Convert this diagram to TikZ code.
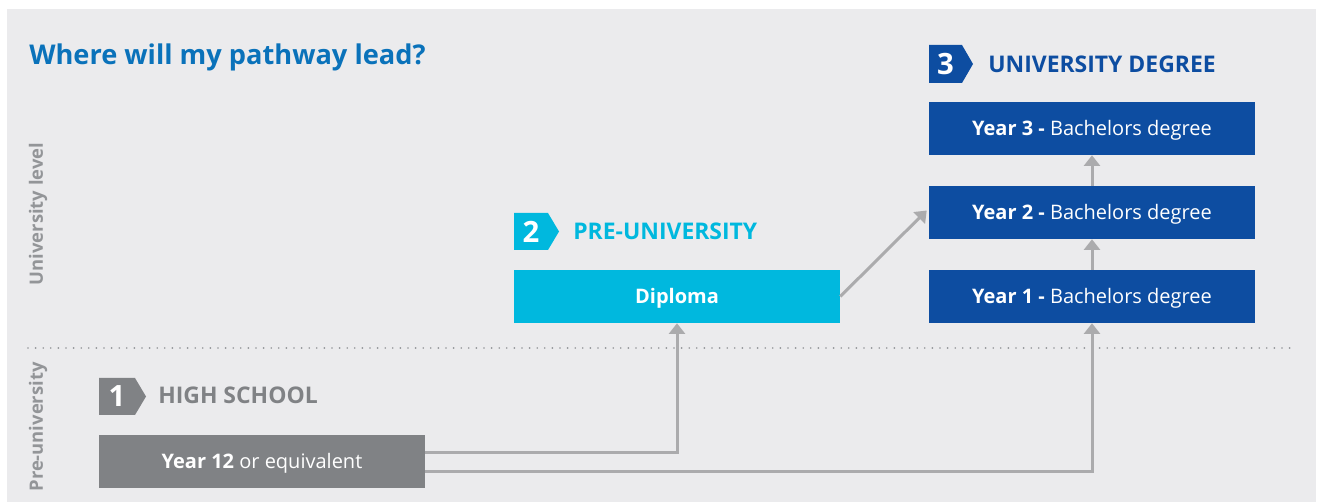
\documentclass[tikz,border=0pt]{standalone}
\usepackage{fontspec}
\setmainfont{Open Sans}
\usetikzlibrary{arrows.meta,calc}
\definecolor{bg}{HTML}{EBEBED}
\definecolor{titleblue}{HTML}{0A72BA}
\definecolor{darkblue}{HTML}{0D4DA1}
\definecolor{cyanb}{HTML}{00B8DE}
\definecolor{greyb}{HTML}{808285}
\definecolor{conn}{HTML}{ABABAD}
\definecolor{sidegrey}{HTML}{939598}
\tikzset{
  box/.style={inner sep=0pt, minimum width=244.5pt, minimum height=39.75pt, text height=10.6pt, text depth=0pt, text=white, font=\fontsize{15}{18}\selectfont},
  hdr/.style={anchor=base west, inner sep=0pt, font=\fontsize{17.2}{20}\selectfont\bfseries},
  num/.style={inner sep=0pt, text=white, font=\fontsize{22}{24}\selectfont\bfseries},
  connector/.style={draw=conn, line width=2.25pt},
  arr/.style={-{Triangle[width=12pt,length=8pt]}},
  side/.style={rotate=90, text=sidegrey, inner sep=0pt, font=\fontsize{13.8}{15}\selectfont\bfseries},
}
\newcommand{\badge}[5]{% x0 y0 x1 y1 color
  \fill[#5] (#1,#2) -- (#3,#2) -- ({#3+11},{(#2+#4)/2}) -- (#3,#4) -- (#1,#4) -- cycle;}
\begin{document}
\begin{tikzpicture}[x=0.75pt,y=-0.75pt]
\useasboundingbox (0,0) rectangle (1322,502);
\fill[white] (0,0) rectangle (1322,502);
\fill[bg] (7,9) rectangle (1316,502);
% title
\node[anchor=base west, inner sep=0pt, text=titleblue, font=\fontsize{20.4}{24}\selectfont\bfseries] (title) at (29,65) {Where will my pathway lead?};
% side labels
\node[side] (ulevel) at (38,214) {University level};
\node[side] (preu) at (38,427) {Pre-university};
% dotted separator
\coordinate (dl) at (28,348);
\coordinate (dr) at (1290,348);
\draw[sidegrey, line width=1.4pt, line cap=round, dash pattern=on 0pt off 5.7pt] (dl) -- (dr);
% badges
\badge{929}{45}{962}{83}{darkblue}
\node[num] (n3) at (945.5,64) {3};
\node[hdr, text=darkblue] (h3) at (988,73) {UNIVERSITY DEGREE};
\badge{514}{213}{548}{250}{cyanb}
\node[num] (n2) at (531,231.5) {2};
\node[hdr, text=cyanb] (h2) at (573,240) {PRE-UNIVERSITY};
\badge{99}{378}{135}{415}{greyb}
\node[num] (n1) at (117,396.5) {1};
\node[hdr, text=greyb] (h1) at (158,404) {HIGH SCHOOL};
% boxes
\node[box, fill=darkblue] (y3) at (1092,128.5) {\textbf{Year 3 -} Bachelors degree};
\node[box, fill=darkblue] (y2) at (1092,212.5) {\textbf{Year 2 -} Bachelors degree};
\node[box, fill=darkblue] (y1) at (1092,296.5) {\textbf{Year 1 -} Bachelors degree};
\node[box, fill=cyanb] (dip) at (677,296.5) {\textbf{Diploma}};
\node[box, fill=greyb] (y12) at (262,461.5) {\textbf{Year 12} or equivalent};
% connectors
\draw[connector, arr] ($(y12.east)+(0,-8.5)$) -| (dip.south);
\draw[connector, arr] ($(y12.east)+(0,10)$) -| (y1.south);
\draw[connector, arr] (y1.north) -- (y2.south);
\draw[connector, arr] (y2.north) -- (y3.south);
\draw[connector, arr] (dip.east) -- ($(y2.west)+(-2,-2)$);
\end{tikzpicture}
\end{document}
